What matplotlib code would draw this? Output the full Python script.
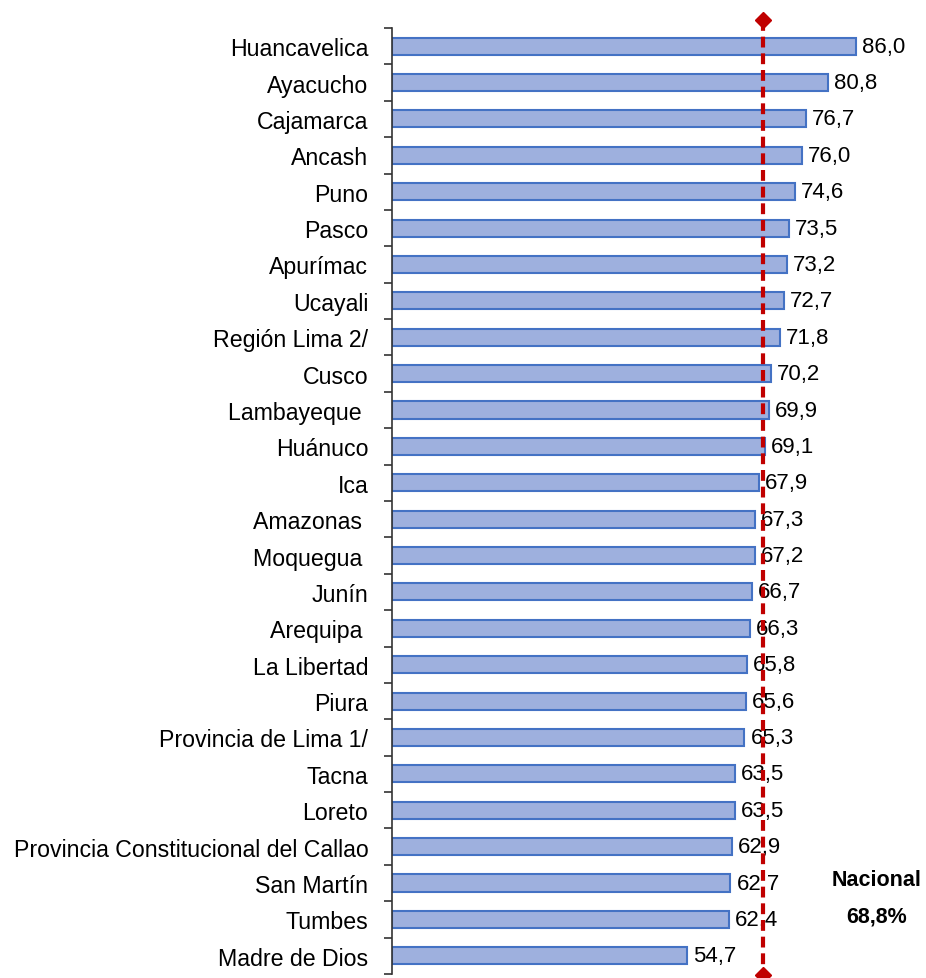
import matplotlib
matplotlib.use("Agg")
import numpy as np
import matplotlib.pyplot as plt

regiones = ["Huancavelica", "Ayacucho", "Cajamarca", "Ancash", "Puno", "Pasco",
            "Apurímac", "Ucayali", "Región Lima 2/", "Cusco", "Lambayeque ",
            "Huánuco", "Ica", "Amazonas ", "Moquegua ", "Junín", "Arequipa ",
            "La Libertad", "Piura", "Provincia de Lima 1/", "Tacna", "Loreto",
            "Provincia Constitucional del Callao", "San Martín", "Tumbes",
            "Madre de Dios"]
valores = [86.0, 80.8, 76.7, 76.0, 74.6, 73.5, 73.2, 72.7, 71.8, 70.2, 69.9,
           69.1, 67.9, 67.3, 67.2, 66.7, 66.3, 65.8, 65.6, 65.3, 63.5, 63.5,
           62.9, 62.7, 62.4, 54.7]
nacional = 68.8

plt.rcParams['font.family'] = ['Liberation Sans', 'DejaVu Sans']

fig = plt.figure(figsize=(9.26, 9.79), dpi=100)
ax = fig.add_axes([0.4233, 0.0041, 0.5713, 0.9663])

y = np.arange(len(regiones))
ax.barh(y, valores, height=0.47, color='#9eb0de', edgecolor='#4472c4', linewidth=1.5)

for yi, v in zip(y, valores):
    ax.text(v + 1.1, yi, f"{v:.1f}".replace('.', ','), va='center', ha='left',
            fontsize=16, color='black')

# linea del promedio nacional
ax.plot([nacional, nacional], [-0.72, 25.52], color='#c00000', lw=3,
        ls=(0, (2.6, 1.4)), clip_on=False, zorder=4)
ax.plot([nacional, nacional], [-0.72, 25.52], ls='none', marker='D', ms=8,
        color='#c00000', clip_on=False, zorder=5)

ax.text(89.8, 23.4, "Nacional\n68,8%", ha='center', va='center', fontsize=15.5,
        fontweight='bold', linespacing=2.0)

ax.set_xlim(0, 98)
ax.set_ylim(len(regiones) - 0.5, -0.5)
ax.set_xticks([])
ax.set_yticks(y)
ax.set_yticklabels(regiones, fontsize=16.7)
ax.set_yticks(np.arange(-0.5, len(regiones)), minor=True)
ax.tick_params(axis='y', which='major', length=0, pad=17)
ax.tick_params(axis='y', which='minor', length=6, width=1.2, color='#333333')
for s in ['top', 'right', 'bottom']:
    ax.spines[s].set_visible(False)
ax.spines['left'].set_linewidth(1.2)
ax.spines['left'].set_color('#333333')

fig.savefig("out.png", dpi=100)
